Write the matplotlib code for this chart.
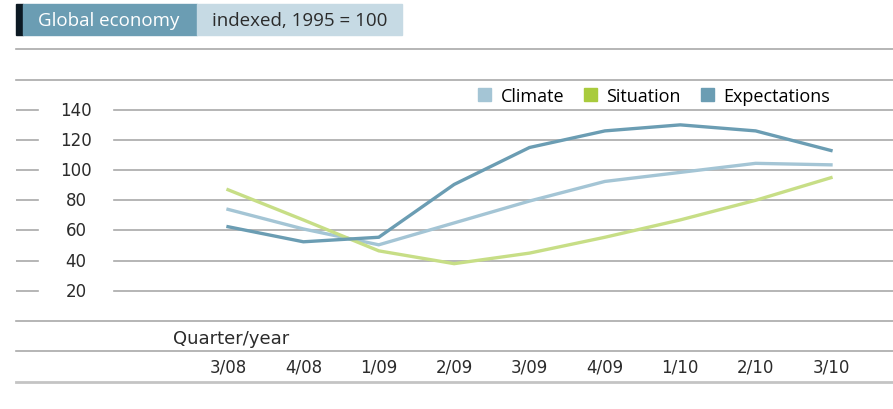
import matplotlib
matplotlib.use("Agg")
import matplotlib.pyplot as plt
from matplotlib.patches import Rectangle, Patch
from matplotlib.lines import Line2D

# --- data ---
quarters = ["3/08", "4/08", "1/09", "2/09", "3/09", "4/09", "1/10", "2/10", "3/10"]
climate = [74, 61, 50.5, 65, 79.5, 92.5, 98.5, 104.5, 103.5]
situation = [87, 67, 46.5, 38, 45, 55.5, 67, 80, 95]
expectations = [62.5, 52.5, 55.5, 90.5, 115, 126, 130, 126, 113]
yticks = [20, 40, 60, 80, 100, 120, 140]

W, H = 893, 410
col_climate = "#a4c5d5"
col_situation = "#c7de86"
col_situation_key = "#a9cb3d"
col_expect = "#6b9db3"
grid_col = "#a9a9a9"
text_col = "#2b2b2b"

fig = plt.figure(figsize=(W / 100, H / 100), dpi=100)


def fx(px):
    return px / W


def fy(py):
    return 1 - py / H


# --- header boxes ---
fig.patches.append(Rectangle((fx(16), fy(36)), fx(7), 31 / H, transform=fig.transFigure,
                             color="#0c1923", zorder=0))
fig.patches.append(Rectangle((fx(23), fy(36)), fx(174), 31 / H, transform=fig.transFigure,
                             color="#6b9db3", zorder=0))
fig.patches.append(Rectangle((fx(197), fy(36)), fx(205), 31 / H, transform=fig.transFigure,
                             color="#c6dae4", zorder=0))
fig.text(fx(38), fy(20.5), "Global economy", color="white", fontsize=13.5,
         family="Open Sans", ha="left", va="center")
fig.text(fx(212), fy(20.5), "indexed, 1995 = 100", color=text_col, fontsize=13.5,
         family="Open Sans", ha="left", va="center")
fig.add_artist(Line2D([fx(16), 1], [fy(50), fy(50)], transform=fig.transFigure,
                      color=grid_col, lw=1.2))

# --- axes: index 0 at px 228, index 8 at px 831 ---
step = (831 - 228) / 8
x0 = -(228 - 16) / step
x1 = 8 + (893 - 831) / step
ax = fig.add_axes([fx(16), fy(322), fx(893 - 16), (322 - 80.6) / H])
ax.set_xlim(x0, x1)
ax.set_ylim(0, 160)
ax.axis("off")

xs = list(range(len(quarters)))
left_end = (38 - 16) / (W - 16)
line_start = (114 - 16) / (W - 16)
for v in yticks:
    ax.axhline(v, xmin=0, xmax=left_end, color=grid_col, lw=1.2, zorder=1)
    ax.axhline(v, xmin=line_start, xmax=1, color=grid_col, lw=1.2, zorder=1)
    ax.text(x0 + (76 - 16) / step, v, str(v), ha="center", va="center",
            fontsize=12, color=text_col, family="DejaVu Sans")
for v in [0, 160]:
    ax.axhline(v, color=grid_col, lw=1.2, zorder=1, clip_on=False)
ax.axhline(-20, color=grid_col, lw=1.2, zorder=1, clip_on=False)
ax.axhline(-40.5, color="#c4c4c4", lw=2, zorder=1, clip_on=False)

ax.plot(xs, climate, color=col_climate, lw=2.4, zorder=3, solid_joinstyle="miter")
ax.plot(xs, situation, color=col_situation, lw=2.4, zorder=3, solid_joinstyle="miter")
ax.plot(xs, expectations, color=col_expect, lw=2.4, zorder=4, solid_joinstyle="miter")

# --- x labels ---
ax.text(x0 + (173 - 16) / step, -11, "Quarter/year", ha="left", va="center",
        fontsize=13, color=text_col, clip_on=False)
for i, q in enumerate(quarters):
    ax.text(i, -30, q, ha="center", va="center", fontsize=12, color=text_col,
            clip_on=False)

# --- legend ---
handles = [Patch(color=col_climate, label="Climate"),
           Patch(color=col_situation_key, label="Situation"),
           Patch(color=col_expect, label="Expectations")]
fig.legend(handles=handles, loc="center", bbox_to_anchor=(fx(654), fy(97)), ncol=3,
           frameon=False, handlelength=0.75, handleheight=0.75, handletextpad=0.5,
           columnspacing=1.1, prop={"family": "Open Sans", "size": 13})

fig.savefig("out.png", dpi=100)
